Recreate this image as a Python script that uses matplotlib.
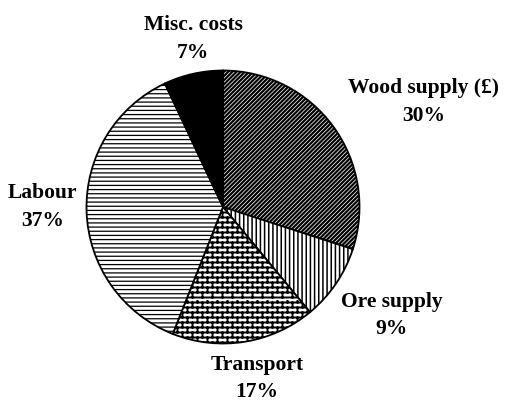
import warnings
import numpy as np
import matplotlib
matplotlib.use('Agg')
import matplotlib.pyplot as plt
from matplotlib import hatch as mhatch
from matplotlib.path import Path

warnings.filterwarnings('ignore')

# données
categories = ['Wood supply (£)', 'Ore supply', 'Transport', 'Labour', 'Misc. costs']
parts = [30, 9, 17, 37, 7]

# motifs de remplissage (b = briques)
hatches = ['////////', '||||', 'b', '----', '']
faces = ['white', 'white', 'white', 'white', 'black']
hatch_lw = [1.6, 1.1, 1.4, 0.9, 1.0]

# position des étiquettes : (distance, décalage d'angle)
label_pos = [(1.66, -8.4), (1.47, 1.4), (1.28, 2.2), (1.32, -1.8), (1.25, -2.6)]


class BrickHatch(mhatch.HatchPatternBase):
    """Motif en briques pour la part 'Transport'."""
    def __init__(self, hatch, density):
        self.rows = 20 * hatch.count('b')
        self.cols = self.rows // 2
        self.num_vertices = self.rows * 2 + self.rows * self.cols * 2

    def set_vertices_and_codes(self, vertices, codes):
        k = 0
        for i in range(self.rows):
            y = (i + 0.5) / self.rows
            vertices[k] = (0, y)
            vertices[k + 1] = (1, y)
            codes[k] = Path.MOVETO
            codes[k + 1] = Path.LINETO
            k += 2
            for j in range(self.cols):
                x = (j + 0.25 + 0.5 * (i % 2)) / self.cols
                vertices[k] = (x, y)
                vertices[k + 1] = (x, y + 1.0 / self.rows)
                codes[k] = Path.MOVETO
                codes[k + 1] = Path.LINETO
                k += 2


mhatch._hatch_types.append(BrickHatch)


def set_hatch_lw(artist, lw):
    # épaisseur du motif, propre à chaque part
    if hasattr(artist, 'set_hatch_linewidth'):
        artist.set_hatch_linewidth(lw)
    orig = artist.draw

    def draw(renderer):
        with plt.rc_context({'hatch.linewidth': lw}):
            orig(renderer)
    artist.draw = draw


plt.rcParams['font.family'] = 'Liberation Serif'
plt.rcParams['font.weight'] = 'bold'

fig = plt.figure(figsize=(5.1, 4.01), dpi=100)
cx, cy, r = 223, 207, 136.5
ax = fig.add_axes([(cx - r) / 510, (401 - cy - r) / 401, 2 * r / 510, 2 * r / 401])

wedges, _ = ax.pie(parts, startangle=90, counterclock=False,
                   colors=faces,
                   wedgeprops=dict(edgecolor='black', linewidth=1.3))
for w, h, lw in zip(wedges, hatches, hatch_lw):
    w.set_hatch(h)
    set_hatch_lw(w, lw)

ax.set_xlim(-1, 1)
ax.set_ylim(-1, 1)

for w, cat, p, (d, da) in zip(wedges, categories, parts, label_pos):
    ang = np.deg2rad((w.theta1 + w.theta2) / 2 + da)
    ax.text(d * np.cos(ang), d * np.sin(ang), f'{cat}\n{p}%',
            ha='center', va='center', fontsize=15.5, linespacing=1.5,
            clip_on=False)

fig.savefig('out.png', dpi=100)
